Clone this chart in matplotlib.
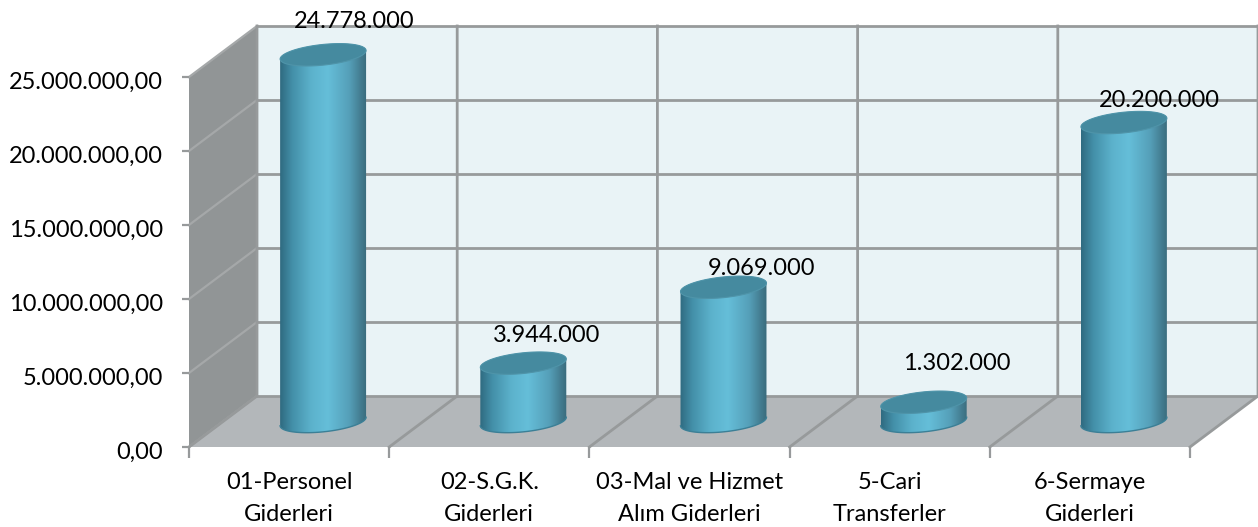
import numpy as np
import matplotlib
matplotlib.use("Agg")
import matplotlib.pyplot as plt
from matplotlib.colors import LinearSegmentedColormap
from matplotlib.patches import Polygon, PathPatch
from matplotlib.path import Path
from matplotlib.transforms import ScaledTranslation

categories = ["01-Personel\nGiderleri", "02-S.G.K.\nGiderleri", "03-Mal ve Hizmet\nAlım Giderleri",
              "5-Cari\nTransferler", "6-Sermaye\nGiderleri"]
values = [24778000, 3944000, 9069000, 1302000, 20200000]
y_ticks = [0, 5000000, 10000000, 15000000, 20000000, 25000000]

# hand placed labels in the original, pixels away from the top of each cylinder
label_offsets = [(31, 33), (23, 28), (38, 19), (33, 39), (35, 22)]

W, H = 1258, 527
LEFT, RIGHT, BOTTOM, TOP = 189, 1190, 447, 77
GRID = "#979a9b"

px_x = 5 / (RIGHT - LEFT)
px_y = 25000000 / (BOTTOM - TOP)
DX = 68 * px_x
DY = 51 * px_y

plt.rcParams["font.family"] = ["Lato", "DejaVu Sans"]
fig = plt.figure(figsize=(W / 100, H / 100), dpi=100)
ax = fig.add_axes([LEFT / W, (H - BOTTOM) / H, (RIGHT - LEFT) / W, (BOTTOM - TOP) / H])
ax.set_xlim(0, 5)
ax.set_ylim(0, 25000000)

# walls
ax.add_patch(Polygon([(DX, DY), (5 + DX, DY), (5 + DX, 25000000 + DY), (DX, 25000000 + DY)],
                     fc="#e9f3f6", ec="none", clip_on=False, zorder=1))
ax.add_patch(Polygon([(0, 0), (DX, DY), (DX, 25000000 + DY), (0, 25000000)],
                     fc="#919596", ec="none", clip_on=False, zorder=1))
ax.add_patch(Polygon([(0, 0), (5, 0), (5 + DX, DY), (DX, DY)],
                     fc="#b3b7ba", ec="none", clip_on=False, zorder=1))

# grid
for t in y_ticks:
    ax.plot([0, DX], [t, t + DY], color="#a5a8a9", lw=1.6, clip_on=False, zorder=2)
    ax.plot([DX, 5 + DX], [t + DY, t + DY], color=GRID, lw=2, clip_on=False, zorder=2)
for i in range(6):
    ax.plot([i, i + DX, i + DX], [0, DY, 25000000 + DY], color=GRID, lw=2, clip_on=False, zorder=2,
            solid_joinstyle="miter")

cmap = LinearSegmentedColormap.from_list("cyl", [
    (0.0, "#2f6a80"), (0.14, "#438fa8"), (0.36, "#5cb2cc"), (0.55, "#65bed9"),
    (0.8, "#559fb8"), (0.93, "#437c90"), (1.0, "#3a6b7c")])
grad = np.linspace(0, 1, 256).reshape(1, -1)

A, B, TILT = 43.2, 10.3, np.radians(6)


def ellipse(cx, cy, t):
    # pixel shape turned into data units
    ex = A * np.cos(t) * np.cos(TILT) - B * np.sin(t) * np.sin(TILT)
    ey = A * np.cos(t) * np.sin(TILT) + B * np.sin(t) * np.cos(TILT)
    return np.column_stack([cx + ex * px_x, cy + ey * px_y])


t_right = np.arctan2(-B * np.sin(TILT), A * np.cos(TILT))
t_lower = np.linspace(t_right - np.pi, t_right, 80)
t_upper = np.linspace(t_right, t_right + np.pi, 80)

for i, v in enumerate(values):
    cx = i + 0.5 + DX / 2
    cy = DY / 2
    pts = np.vstack([ellipse(cx, cy, t_lower), ellipse(cx, cy + v, t_upper)])
    codes = [Path.MOVETO] + [Path.LINETO] * (len(pts) - 1)
    body = PathPatch(Path(pts, codes), fc="none", ec="none", transform=ax.transData, clip_on=False)
    ax.add_patch(body)
    half = 43.2 * px_x
    im = ax.imshow(grad, cmap=cmap, aspect="auto", zorder=3, interpolation="bilinear",
                   extent=[cx - half, cx + half, 0, cy + v + 15 * px_y])
    im.set_clip_path(body)
    im.set_clip_box(fig.bbox)
    ax.plot(*ellipse(cx, cy, t_lower).T, color="#3b7f96", lw=1, clip_on=False, zorder=3.5)
    ax.add_patch(Polygon(ellipse(cx, cy + v, np.linspace(0, 2 * np.pi, 120)), fc="#458a9f",
                         ec="#4f94a9", lw=0.8, clip_on=False, zorder=4))
    ox, oy = label_offsets[i]
    ax.text(cx + ox * px_x, cy + v + oy * px_y, f"{v:,}".replace(",", "."), ha="center", va="center",
            fontsize=17, color="black", clip_on=False, zorder=5)

ax.set_xlim(0, 5)
ax.set_ylim(0, 25000000)

ax.set_yticks(y_ticks)
ax.set_yticklabels([f"{t:,}".replace(",", ".") + ",00" for t in y_ticks])
ax.set_xticks(range(6))
ax.set_xticklabels([])
ax.set_xticks(np.arange(5) + 0.5, minor=True)
ax.set_xticklabels(categories, minor=True, linespacing=1.65)
ax.tick_params(axis="y", length=5, width=1.6, color=GRID, labelsize=17, pad=13.5)
ax.tick_params(axis="x", which="major", length=8, width=1.6, color=GRID)
ax.tick_params(axis="x", which="minor", length=0, labelsize=17, pad=18)
for s in ["top", "right", "left", "bottom"]:
    ax.spines[s].set_visible(False)
ax.set_axisbelow(False)

# y labels sit a little under their ticks in the original
shift = ScaledTranslation(0, -3 / 100, fig.dpi_scale_trans)
for lab in ax.get_yticklabels():
    lab.set_transform(lab.get_transform() + shift)

fig.savefig("out.png", dpi=100)
